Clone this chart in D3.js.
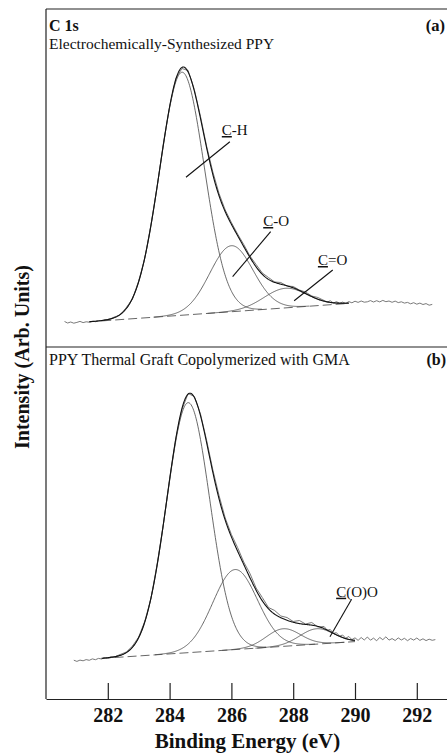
<!DOCTYPE html>
<html><head><meta charset="utf-8">
<script src="https://cdn.jsdelivr.net/npm/d3@7"></script>
<style>
html,body{margin:0;padding:0;background:#fff;}
svg{display:block;}
text{font-family:"Liberation Serif","Times New Roman",serif;fill:#111;}
</style></head><body>
<svg id="chart" width="447" height="754"></svg>
<script>
// ---------------- DATA ----------------
const xTicks = [282, 284, 286, 288, 290, 292];
const xLabel = "Binding Energy (eV)";
const yLabel = "Intensity (Arb. Units)";
const panelTitles = ["Electrochemically-Synthesized PPY", "PPY Thermal Graft Copolymerized with GMA"];
const panelTags = ["(a)", "(b)"];
const spectrumTitle = "C 1s";

// Panel (a) fitted components
const peakNamesA   = ["C-H", "C-O", "C=O"];
const peakCentersA = [284.4, 286.0, 287.75];
const peakHeightsA = [243, 66, 19.6];
const peakSigmasA  = [0.72, 0.70, 0.70];
const baselineA_eV  = [281.4, 289.8];
const baselineA_int = [25.2, 43.6];

// Panel (b) fitted components
const peakNamesB   = ["C-H", "C-O", "C=O", "C(O)O"];
const peakCentersB = [284.6, 286.12, 287.68, 288.76];
const peakHeightsB = [250, 80, 17.6, 15.4];
const peakSigmasB  = [0.70, 0.72, 0.55, 0.55];
const baselineB_eV  = [281.8, 290.0];
const baselineB_int = [40.6, 57.4];

// Measured spectrum (a)
const rawA_eV = [280.6,280.7,280.8,280.9,281.0,281.1,281.2,281.3,281.4,281.5,281.6,281.7,281.8,281.9,282.0,
  282.2,282.4,282.6,282.8,283.0,283.2,283.4,283.6,283.8,284.0,284.2,284.4,284.6,284.8,285.0,285.2,285.4,285.6,285.8,
  286.0,286.2,286.4,286.6,286.8,287.0,287.2,287.4,287.6,287.8,288.0,288.2,288.4,288.6,288.8,289.0,
  289.1,289.2,289.3,289.4,289.5,289.6,289.7,289.8,289.9,290.0,290.1,290.2,290.3,290.4,290.5,290.6,290.7,290.8,290.9,
  291.0,291.1,291.2,291.3,291.4,291.5,291.6,291.7,291.8,291.9,292.0,292.1,292.2,292.3,292.4,292.5];
const rawA_int = [25.5,24.0,25.0,23.8,24.6,25.6,24.4,25.2,24.8,25.9,25.3,26.4,26.0,27.2,27.0,
  29.8,32.0,39.5,48.2,66.0,89.0,122.8,161.0,203.5,240.0,268.5,278.5,276.5,257.5,230.5,200.5,175.0,153.5,137.0,
  124.5,113.0,102.5,91.0,82.5,74.0,69.5,65.0,64.5,61.0,60.5,57.0,55.0,51.0,49.5,46.5,
  45.0,46.2,44.0,45.3,43.8,44.9,43.6,45.4,44.2,45.8,44.6,46.0,44.8,45.2,46.4,45.0,46.3,45.1,46.6,
  45.3,46.0,44.7,45.9,44.4,45.2,43.9,44.6,43.2,44.3,42.8,43.9,42.5,43.4,41.8,42.6];

// Measured spectrum (b)
const rawB_eV = [280.9,281.0,281.1,281.2,281.3,281.4,281.5,281.6,281.7,281.8,281.9,282.0,282.1,282.2,
  282.4,282.6,282.8,283.0,283.2,283.4,283.6,283.8,284.0,284.2,284.4,284.6,284.8,285.0,285.2,285.4,285.6,285.8,
  286.0,286.2,286.4,286.6,286.8,287.0,287.2,287.4,287.6,287.8,288.0,288.2,288.4,288.6,288.8,289.0,
  289.1,289.2,289.3,289.4,289.5,289.6,289.7,289.8,289.9,290.0,290.1,290.2,290.3,290.4,290.5,290.6,290.7,290.8,290.9,
  291.0,291.1,291.2,291.3,291.4,291.5,291.6,291.7,291.8,291.9,292.0,292.1,292.2,292.3,292.4,292.5,292.6];
const rawB_int = [38.8,37.6,38.9,38.2,39.4,38.7,40.1,39.3,40.6,40.0,41.4,40.9,42.3,41.8,
  44.5,47.0,53.0,62.0,78.0,101.0,135.5,175.0,220.0,260.5,289.5,305.5,302.5,285.0,258.5,229.0,203.5,181.0,
  164.5,151.5,137.0,125.5,111.0,101.5,91.5,88.5,83.0,81.5,77.5,78.5,75.0,76.5,72.0,72.5,
  68.8,69.5,65.6,66.3,62.9,64.0,60.8,62.5,59.4,61.2,58.6,61.5,59.0,62.0,58.8,60.9,58.2,61.6,59.3,
  62.2,58.9,60.4,58.5,61.1,59.0,60.7,58.3,60.5,58.9,61.0,58.6,60.2,58.4,59.8,58.7,59.4];

// Annotation anchors (eV, intensity) : label start, leader from, leader to
const annotA = [
  {name: "C-H", lx: 285.69, ly: 212, x1: 285.95, y1: 205.3, x2: 284.53, y2: 169.7},
  {name: "C-O", lx: 287.03, ly: 121, x1: 287.27, y1: 115.3, x2: 286.04, y2: 70.3},
  {name: "C=O", lx: 288.80, ly: 82,  x1: 289.28, y1: 77.0,  x2: 288.03, y2: 46.3}
];
const annotB = [
  {name: "C(O)O", lx: 289.39, ly: 102.3, x1: 289.89, y1: 99.7, x2: 289.19, y2: 62.3}
];

// ---------------- LAYOUT ----------------
const W = 447, H = 754;
const L = 46, T = 9, MID = 347, B = 699, R = 447.7;
const svg = d3.select("#chart");

const x = d3.scaleLinear().domain([280, 293]).range([L, R]);
const yA = d3.scaleLinear().domain([0, MID - T]).range([MID, T]);
const yB = d3.scaleLinear().domain([0, B - MID]).range([B, MID]);

function baseAt(e, bx, by) {
  const t = (e - bx[0]) / (bx[1] - bx[0]);
  return by[0] + t * (by[1] - by[0]);
}
function gauss(e, c, a, s) { return a * Math.exp(-((e - c) * (e - c)) / (2 * s * s)); }

function drawPanel(y, raw_e, raw_i, bx, by, centers, heights, sigmas, annots) {
  const g = svg.append("g");
  const line = d3.line().x(d => x(d[0])).y(d => y(d[1]));
  // baseline (dashed)
  g.append("path").datum([[bx[0], by[0]], [bx[1], by[1]]])
    .attr("d", line).attr("fill", "none").attr("stroke", "#555")
    .attr("stroke-width", 0.9).attr("stroke-dasharray", "9,4");
  // components
  centers.forEach((c, k) => {
    const lo = Math.max(bx[0], c - 3.6 * sigmas[k]);
    const hi = Math.min(bx[1], c + 3.6 * sigmas[k]);
    const pts = d3.range(lo, hi + 1e-9, 0.02).map(e => [e, baseAt(e, bx, by) + gauss(e, c, heights[k], sigmas[k])]);
    g.append("path").datum(pts).attr("d", line)
      .attr("fill", "none").attr("stroke", "#444").attr("stroke-width", 0.8);
  });
  // raw spectrum
  const rawPts = raw_e.map((e, i) => [e, raw_i[i]]);
  g.append("path").datum(rawPts).attr("d", line)
    .attr("fill", "none").attr("stroke", "#6a6a6a").attr("stroke-width", 0.9);
  // envelope
  const env = d3.range(bx[0], bx[1] + 1e-9, 0.02).map(e => {
    let s = baseAt(e, bx, by);
    centers.forEach((c, k) => { s += gauss(e, c, heights[k], sigmas[k]); });
    return [e, s];
  });
  g.append("path").datum(env).attr("d", line)
    .attr("fill", "none").attr("stroke", "#111").attr("stroke-width", 1.1);
  // annotations
  annots.forEach(a => {
    g.append("line").attr("x1", x(a.x1)).attr("y1", y(a.y1)).attr("x2", x(a.x2)).attr("y2", y(a.y2))
      .attr("stroke", "#111").attr("stroke-width", 1.1);
    const t = g.append("text").attr("x", x(a.lx)).attr("y", y(a.ly)).attr("font-size", 15);
    t.append("tspan").attr("text-decoration", "underline").style("text-decoration", "underline").text(a.name[0]);
    t.append("tspan").text(a.name.slice(1));
  });
}

drawPanel(yA, rawA_eV, rawA_int, baselineA_eV, baselineA_int, peakCentersA, peakHeightsA, peakSigmasA, annotA);
drawPanel(yB, rawB_eV, rawB_int, baselineB_eV, baselineB_int, peakCentersB, peakHeightsB, peakSigmasB, annotB);

// frame
const frame = svg.append("g").attr("stroke", "#222").attr("stroke-width", 1.2);
frame.append("line").attr("x1", L).attr("y1", T).attr("x2", L).attr("y2", B);
frame.append("line").attr("x1", L).attr("y1", T).attr("x2", W + 2).attr("y2", T);
frame.append("line").attr("x1", L).attr("y1", MID).attr("x2", W + 2).attr("y2", MID);

// x axis
const ax = svg.append("g").attr("transform", `translate(0,${B})`)
  .call(d3.axisBottom(x).tickValues(xTicks).tickSizeInner(-16).tickSizeOuter(0).tickPadding(9).tickFormat(d3.format("d")));
ax.select(".domain").attr("stroke", "#222").attr("stroke-width", 1.2);
ax.selectAll(".tick line").attr("stroke", "#222").attr("stroke-width", 1.2);
ax.selectAll(".tick text").attr("font-family", "Liberation Serif, serif").attr("font-weight", "bold")
  .attr("font-size", 20).attr("fill", "#111");

// axis titles
svg.append("text").attr("x", 247.5).attr("y", 748).attr("text-anchor", "middle")
  .attr("font-weight", "bold").attr("font-size", 21).text(xLabel);
svg.append("text").attr("transform", "translate(29,357) rotate(-90)").attr("text-anchor", "middle")
  .attr("font-weight", "bold").attr("font-size", 20).text(yLabel);

// panel headers
svg.append("text").attr("x", 49).attr("y", 31).attr("font-weight", "bold").attr("font-size", 16).text(spectrumTitle);
svg.append("text").attr("x", 445).attr("y", 31).attr("text-anchor", "end").attr("font-weight", "bold").attr("font-size", 16.5).text(panelTags[0]);
svg.append("text").attr("x", 49).attr("y", 49).attr("font-size", 15.5).text(panelTitles[0]);
svg.append("text").attr("x", 49).attr("y", 365).attr("font-size", 16).text(panelTitles[1]);
svg.append("text").attr("x", 446).attr("y", 365).attr("text-anchor", "end").attr("font-weight", "bold").attr("font-size", 16).text(panelTags[1]);
</script>
</body></html>
